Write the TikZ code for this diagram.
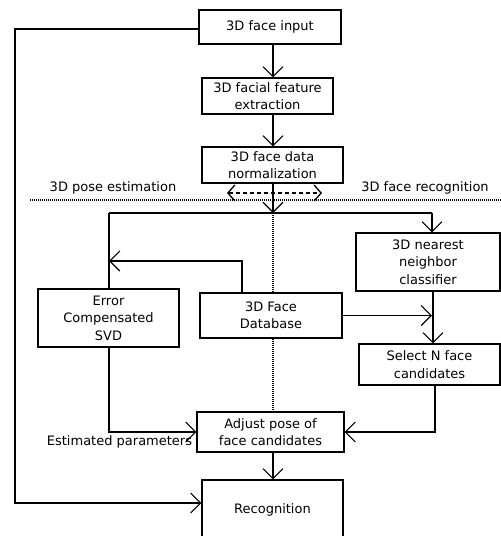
\documentclass[tikz,border=0pt]{standalone}
\usepackage{fontspec}
\setmainfont{DejaVu Sans}
\usetikzlibrary{arrows.meta}
\begin{document}
\begin{tikzpicture}[x=1pt,y=-1pt,
  box/.style={draw,line width=1.1pt,inner sep=0pt,align=center,font=\fontsize{13}{17.5}\selectfont},
  lbl/.style={inner sep=0pt,font=\fontsize{13}{17.5}\selectfont},
  ln/.style={line width=1.1pt},
  arr/.style={line width=1.1pt,-{Straight Barb[length=10pt,width=20pt]}},
  dotl/.style={line width=1.1pt,dash pattern=on 1pt off 1pt},
  dashl/.style={line width=1.3pt,dash pattern=on 4pt off 3pt,{Straight Barb[length=7pt,width=16pt]}-{Straight Barb[length=7pt,width=16pt]}}]
\useasboundingbox (0,0) rectangle (501,536);
\clip (0,0) rectangle (501,536);
% nodes
\node[box,minimum width=142pt,minimum height=34pt] (input) at (270,27) {3D face input};
\node[box,minimum width=131pt,minimum height=36pt] (feature) at (267.5,96) {3D facial feature\\extraction};
\node[box,minimum width=141pt,minimum height=36pt] (norm) at (272.5,165) {3D face data\\normalization};
\node[box,minimum width=144pt,minimum height=58pt] (nn) at (428,262) {3D nearest\\neighbor\\classifier};
\node[box,minimum width=141pt,minimum height=58pt] (error) at (108.5,318) {Error\\Compensated\\SVD};
\node[box,minimum width=142pt,minimum height=45pt] (db) at (271,315.5) {3D Face\\Database};
\node[box,minimum width=141pt,minimum height=41pt] (select) at (429.5,364.5) {Select N face\\candidates};
\node[box,minimum width=147pt,minimum height=40pt] (adjust) at (270.5,432) {Adjust pose of\\face candidates};
\node[box,minimum width=141pt,minimum height=66pt,text depth=0pt] (recog) at (272.5,513) {};
\node[lbl] (recogtext) at (272.5,510) {Recognition};
% labels
\node[lbl] (pose) at (113,188) {3D pose estimation};
\node[lbl] (frec) at (425,188) {3D face recognition};
\node[lbl] (est) at (119.5,442) {Estimated parameters};
% helper coordinates
\coordinate (spine) at (273,0);
\coordinate (L1) at (15,29);
\coordinate (L2) at (15,503);
\coordinate (T) at (273,213);
\coordinate (HL) at (109,213);
\coordinate (HR) at (432,213);
\coordinate (J) at (109,261);
\coordinate (DL) at (30,200);
\coordinate (DR) at (501,200);
\coordinate (DA) at (227,193);
\coordinate (DB) at (322,193);
% connectors
\draw[arr] (input.west |- L1) -- (L1) -- (L2) -- (recog.west |- L2);
\draw[arr] (input.south -| spine) -- (feature.north -| spine);
\draw[arr] (feature.south -| spine) -- (norm.north -| spine);
\draw[arr] (norm.south -| spine) -- (T);
\draw[ln] (HL) -- (HR);
\draw[arr] (HR) -- (nn.north -| HR);
\draw[ln] (HL) -- (error.north -| HL);
\draw[dotl] (T) -- (db.north -| spine);
\draw[dotl] (db.south -| spine) -- (adjust.north -| spine);
\draw[dotl] (DL) -- (DR);
\draw[dashl] (DA) -- (DB);
\draw[arr] (db.north -| 242,0) -- (242,261) -- (J);
\draw[arr] (db.east) -- (db.east -| 432,0);
\draw[arr] (nn.south -| 433,0) -- (select.north -| 433,0);
\draw[arr] (select.south -| 435,0) |- (adjust.east);
\draw[arr] (error.south -| HL) |- (adjust.west);
\draw[arr] (adjust.south -| spine) -- (recog.north -| spine);
\end{tikzpicture}
\end{document}
